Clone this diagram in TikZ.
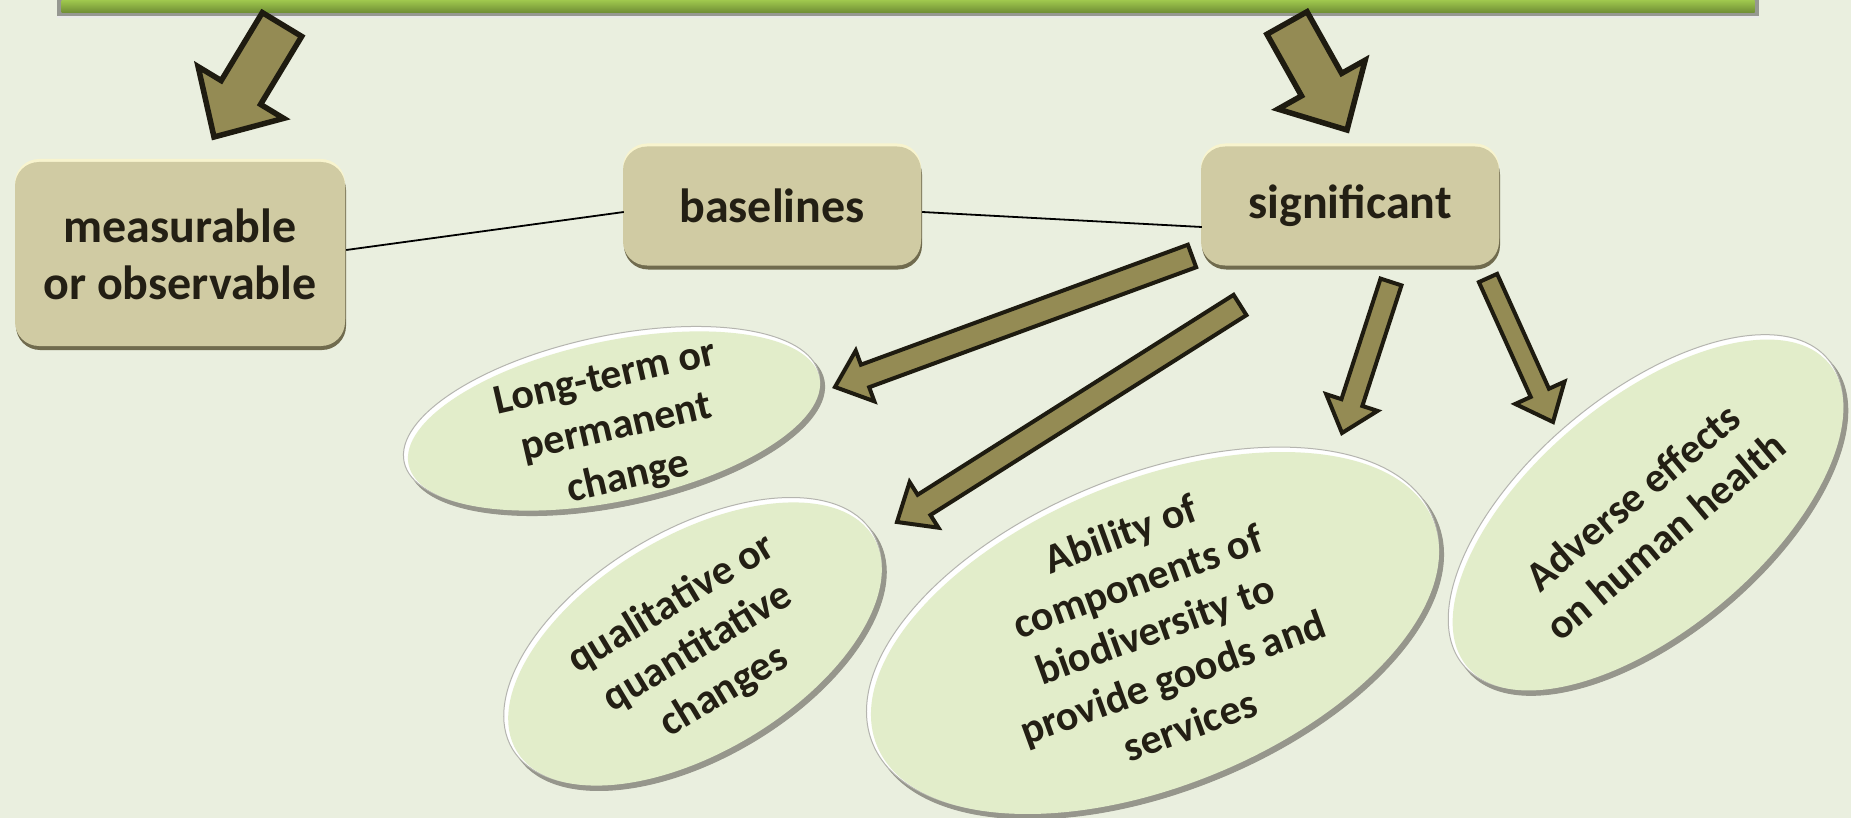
\documentclass[tikz,border=0pt]{standalone}
\usepackage{fontspec}
\setmainfont{Carlito}
\usetikzlibrary{calc,shapes.geometric}
\definecolor{bgc}{RGB}{234,239,223}
\definecolor{boxfill}{RGB}{208,203,163}
\definecolor{boxhl}{RGB}{248,244,206}
\definecolor{boxsh}{RGB}{112,107,78}
\definecolor{ellfill}{RGB}{226,237,202}
\definecolor{ellsh}{RGB}{150,150,140}
\definecolor{arrfill}{RGB}{148,139,84}
\definecolor{arrline}{RGB}{30,27,16}
\definecolor{txt}{RGB}{35,31,20}
\definecolor{barg}{RGB}{160,200,78}
\definecolor{bargd}{RGB}{110,140,52}
\definecolor{barrim}{RGB}{150,152,145}
\tikzset{
  boxbase/.style={rectangle, rounded corners=24pt, inner sep=0pt},
  boxtext/.style={text=txt, font=\fontsize{48}{57}\selectfont\bfseries, align=center},
  ellbase/.style={ellipse, inner sep=0pt, outer sep=0pt},
  elltext/.style={inner sep=0pt, text=txt, font=\fontsize{42}{51}\selectfont\bfseries, align=center},
  blockarr/.style={fill=arrfill, draw=arrline, line width=4pt, line join=miter, miter limit=8},
  bigarr/.style={blockarr, line width=5.5pt},
  link/.style={draw=black, line width=1.8pt}
}
% box: name, x, y, w, h, text
\newcommand\mkbox[6]{%
  \node[boxbase, fill=boxsh, minimum width=#4, minimum height=#5] (#1-sh) at (#2+1,#3+4) {};
  \node[boxbase, fill=boxhl, minimum width=#4, minimum height=#5] (#1-hl) at (#2,#3-3) {};
  \node[boxbase, fill=boxfill, minimum width=#4, minimum height=#5, boxtext] (#1) at (#2,#3) {#6};
}
% ellipse: name, x, y, a, b, angle
\newcommand\mkell[6]{%
  \node[ellbase, fill=ellsh, draw=ellsh, line width=1pt, minimum width=2*#4, minimum height=2*#5, rotate=#6] (#1-sh) at (#2+2.5,#3+3) {};
  \node[ellbase, fill=white, draw=ellsh!70, line width=1pt, minimum width=2*#4, minimum height=2*#5, rotate=#6] (#1-hl) at (#2-2.5,#3-3) {};
  \node[ellbase, fill=ellfill, minimum width=2*#4-4, minimum height=2*#5-4, rotate=#6] (#1) at (#2,#3) {};
}
% block arrow: style, tail, tip, shaft half, head half, head length
\newcommand\blkarrow[6]{%
  \coordinate (blkB) at ($(#3)!#6!(#2)$);
  \draw[#1] ($(#2)!#4!90:(#3)$) -- ($(blkB)!#4!90:(#3)$) -- ($(blkB)!#5!90:(#3)$) -- (#3)
    -- ($(blkB)!#5!-90:(#3)$) -- ($(blkB)!#4!-90:(#3)$) -- ($(#2)!#4!-90:(#3)$) -- cycle;
}
\begin{document}
\begin{tikzpicture}[x=1pt,y=-1pt]
\fill[bgc] (0,0) rectangle (1851,818);
\useasboundingbox (0,0) rectangle (1851,818);
% top bar
\node[rectangle, inner sep=0pt, fill=white!80!barrim, minimum width=1702pt, minimum height=18pt] (bar-rim) at (908,9) {};
\node[rectangle, inner sep=0pt, fill=barrim, minimum width=1702pt, minimum height=16pt] (bar-sh) at (908,8) {};
\node[rectangle, inner sep=0pt, top color=barg, middle color=barg, bottom color=bargd, minimum width=1693pt, minimum height=13pt] (bar) at (908,6.5) {};
% boxes
\mkbox{meas}{180}{254}{330pt}{184pt}{measurable\\or observable}
\mkbox{base}{772}{206}{298pt}{119pt}{baselines}
\mkbox{sig}{1350}{206}{298pt}{119pt}{significant}
% links
\draw[link] ([yshift=8pt]meas-sh.east) -- ([yshift=-2pt]base-sh.west);
\draw[link] ([yshift=-2pt]base-sh.east) -- ([yshift=-17pt]sig-sh.west);
% ellipses
\mkell{lt}{614}{421}{212}{82}{12}
\node[elltext, rotate=13] (lt-t) at (617,429) {Long-term or\\permanent\\change};
\mkell{ql}{695}{644}{210}{110}{31}
\node[elltext, rotate=31] (ql-t) at (698,648) {qualitative or\\quantitative\\changes};
\mkell{ab}{1155}{633}{302}{155}{22}
\node[elltext, rotate=20] (ab-t) at (1155,629) {Ability of\\components of\\biodiversity to\\provide goods and\\services};
\mkell{ad}{1648}{515}{238}{117}{40}
\node[elltext, rotate=40] (ad-t) at (1649,516) {Adverse effects\\on human health};
% top arrows
\coordinate (tl) at (282,24.5);
\coordinate (tlh) at (214,137);
\blkarrow{bigarr}{tl}{tlh}{23pt}{50pt}{52pt}
\coordinate (tr) at (1287,23);
\coordinate (trh) at (1347,130);
\blkarrow{bigarr}{tr}{trh}{23pt}{50pt}{52pt}
% arrows from significant
\coordinate (a1t) at (1192,256);
\coordinate (a1h) at (835,387);
\blkarrow{blockarr}{a1t}{a1h}{12pt}{27pt}{32pt}
\coordinate (a2t) at (1240,305);
\coordinate (a2h) at (897,522);
\blkarrow{blockarr}{a2t}{a2h}{12pt}{27pt}{32pt}
\coordinate (a3t) at (1391,282);
\coordinate (a3h) at (1342,433);
\blkarrow{blockarr}{a3t}{a3h}{11pt}{27pt}{32pt}
\coordinate (a4t) at (1488,278);
\coordinate (a4h) at (1553,422);
\blkarrow{blockarr}{a4t}{a4h}{10pt}{27pt}{32pt}
\end{tikzpicture}
\end{document}
